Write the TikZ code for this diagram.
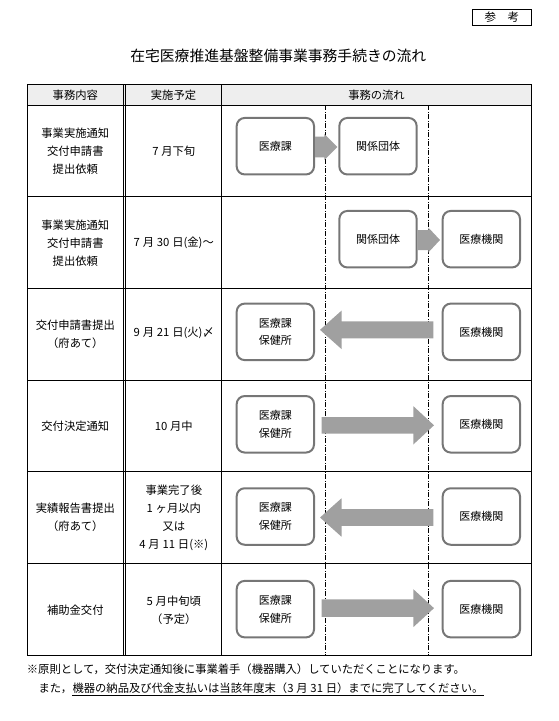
\documentclass[tikz,border=0pt]{standalone}
\usepackage{fontspec}
\setmainfont{Noto Sans CJK JP}
\usetikzlibrary{calc}
\definecolor{arrowgray}{RGB}{160,160,160}
\definecolor{boxgray}{RGB}{118,118,118}
\definecolor{headfill}{RGB}{238,238,238}
\newcommand\gp{\hspace{0.25em}}
% block arrow: #1 shaft start, #2 tip, #3 shaft half height, #4 head half height, #5 signed head length
\newcommand\blockarrow[5]{%
  \fill[arrowgray] let \p1=#1, \p2=#2 in
    (\x1,\y1+#3pt) -- (\x2#5pt,\y1+#3pt) -- (\x2#5pt,\y1+#4pt) -- (\x2,\y1)
    -- (\x2#5pt,\y1-#4pt) -- (\x2#5pt,\y1-#3pt) -- (\x1,\y1-#3pt) -- cycle;}
\begin{document}
\begin{tikzpicture}[x=1pt,y=-1pt,
  txt/.style={align=center,inner sep=0pt,font=\fontsize{11.3}{18}\selectfont},
  flowbox/.style={draw=boxgray,line width=2pt,rounded corners=8pt,minimum width=77.3pt,
    minimum height=56.5pt,align=center,inner sep=0pt,font=\fontsize{11}{17.7}\selectfont},
  grid/.style={line width=0.9pt,line cap=rect},
  dashline/.style={line width=0.8pt,dash pattern=on 5pt off 1.5pt on 1pt off 1.5pt}
]
\useasboundingbox (0,0) rectangle (558,721);

% reference tag and title
\draw[line width=0.9pt] (472.3,9.3) rectangle (531.3,25.3);
\node[txt,font=\fontsize{11.5}{14}\selectfont] (tag) at (501.8,17.5) {参　考};
\node[txt,font=\fontsize{14.8}{18}\selectfont] (title) at (278.3,56) {在宅医療推進基盤整備事業事務手続きの流れ};

% table
\fill[headfill] (27,84.3) rectangle (531.3,105.3);
\foreach \y in {84.3,105.3,196.7,288.3,380,471.7,563.3,655.5}
  \draw[grid] (27,\y) -- (531.3,\y);
\foreach \x in {27,123.3,125.3,221.7,531.3}
  \draw[grid] (\x,84.3) -- (\x,655.5);
\foreach \x in {325.3,428.7}
  \draw[dashline] (\x,105.3) -- (\x,655.5);

% header
\node[txt] (h1) at (75.3,95) {事務内容};
\node[txt] (h2) at (173.5,95) {実施予定};
\node[txt] (h3) at (376.5,95) {事務の流れ};

% column 1
\node[txt] (c11) at (75.3,151.7) {事業実施通知\\交付申請書\\提出依頼};
\node[txt] (c12) at (75.3,243.3) {事業実施通知\\交付申請書\\提出依頼};
\node[txt] (c13) at (75.3,334.7) {交付申請書提出\\（府あて）};
\node[txt] (c14) at (75.3,426.7) {交付決定通知};
\node[txt] (c15) at (75.3,517.2) {実績報告書提出\\（府あて）};
\node[txt] (c16) at (75.3,610) {補助金交付};

% column 2
\node[txt] (c21) at (173.8,151.7) {7\gp 月下旬};
\node[txt] (c22) at (173.8,243.3) {7\gp 月\gp 30\gp 日(金)～};
\node[txt] (c23) at (173.8,333.3) {9\gp 月\gp 21\gp 日(火)〆};
\node[txt] (c24) at (173.8,426.7) {10\gp 月中};
\node[txt] (c25) at (173.8,518.3) {事業完了後\\1\gp ヶ月以内\\又は\\4\gp 月\gp 11\gp 日(※)};
\node[txt] (c26) at (173.8,610.3) {5\gp 月中旬頃\\（予定）};

% flow boxes
\node[flowbox] (b11) at (275.35,146.2) {医療課};
\node[flowbox] (b12) at (378,146.2) {関係団体};
\node[flowbox] (b22) at (378,239.2) {関係団体};
\node[flowbox] (b23) at (481.35,239.2) {医療機関};
\node[flowbox] (b31) at (275.35,331.85) {医療課\\保健所};
\node[flowbox] (b33) at (481.35,331.85) {医療機関};
\node[flowbox] (b41) at (275.35,424.3) {医療課\\保健所};
\node[flowbox] (b43) at (481.35,424.3) {医療機関};
\node[flowbox] (b51) at (275.35,516.5) {医療課\\保健所};
\node[flowbox] (b53) at (481.35,516.5) {医療機関};
\node[flowbox] (b61) at (275.35,609.15) {医療課\\保健所};
\node[flowbox] (b63) at (481.35,609.15) {医療機関};

% arrows
\blockarrow{($(b11.east)+(0,0.8)$)}{($(b12.west)+(-1,0.8)$)}{10.3}{13}{-13}
\blockarrow{($(b22.east)+(0,0.8)$)}{($(b23.west)+(-1.7,0.8)$)}{10}{12.5}{-11.7}
\blockarrow{($(b33.west)+(-8.4,-2)$)}{($(b31.east)+(5,-2)$)}{8.4}{19.2}{+21.5}
\blockarrow{($(b41.east)+(6.7,1)$)}{($(b43.west)+(-7.7,1)$)}{8.2}{19.2}{-20.7}
\blockarrow{($(b53.west)+(-8.4,1)$)}{($(b51.east)+(5,1)$)}{8.4}{19.2}{+21.5}
\blockarrow{($(b61.east)+(6.7,-1)$)}{($(b63.west)+(-7.7,-1)$)}{8.7}{19}{-20.7}

% footnote
\node[txt,anchor=west] (fn1) at (26.7,669) {※原則として，交付決定通知後に事業着手（機器購入）していただくことになります。};
\node[txt,anchor=west] (fn2a) at (38.3,688.3) {また，};
\node[txt,anchor=west] (fn2b) at (fn2a.east) {機器の納品及び代金支払いは当該年度末（3\gp 月\gp 31\gp 日）までに完了してください。};
\draw[line width=0.9pt] (fn2b.west |- 0,695.3) -- (fn2b.east |- 0,695.3);
\end{tikzpicture}
\end{document}
